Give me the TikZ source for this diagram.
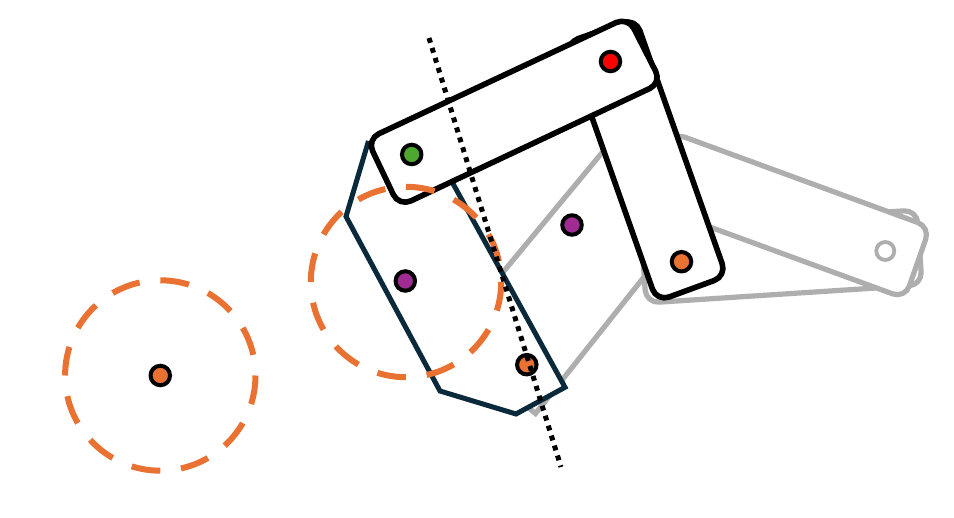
\documentclass[tikz,border=0pt]{standalone}
\usetikzlibrary{calc}
\definecolor{pinred}{HTML}{FF0000}
\definecolor{pingreen}{HTML}{4EA72E}
\definecolor{pinpurple}{HTML}{A02B93}
\definecolor{accent}{HTML}{E97132}
\definecolor{navy}{HTML}{0A2A3C}
\definecolor{ghost}{HTML}{AEAEAE}
\tikzset{
  ghostlink/.style={draw=ghost,fill=white,line width=5.2pt,rounded corners=13pt,line join=round},
  blacklink/.style={draw=black,fill=white,line width=5.6pt,rounded corners=13pt,line join=round},
  navyplate/.style={draw=navy,fill=white,line width=5pt,line join=miter},
  reach/.style={draw=accent,line width=6pt,dash pattern=on 29pt off 20.85pt},
  axisline/.style={draw=black,line width=5pt,dash pattern=on 5pt off 5.4pt},
  joint/.style={circle,draw=black,line width=4pt,minimum size=19.5pt,inner sep=0pt},
  ghostjoint/.style={circle,draw=ghost,fill=white,line width=3.8pt,minimum size=18pt,inner sep=0pt},
}
\begin{document}
\begin{tikzpicture}[x=1pt,y=-1pt]
\useasboundingbox (0,0) rectangle (954,518);
% ghost linkage
\draw[ghostlink,rounded corners=0pt,line join=miter] (446.5,340.4) -- (535.5,413.5) -- (675,238) -- (620,131) -- cycle;
\draw[ghostlink] (641,228) -- (646,303) -- (922,285) -- (917,210) -- cycle;
\draw[ghostlink] (672,132.5) -- (930,227) -- (905,298.4) -- (647,204) -- cycle;
\node[ghostjoint] (gj) at (885.3,251) {};
% plate
\draw[navyplate] (368.5,141) -- (346,216.5) -- (440,391) -- (516,414) -- (565,387.3) -- (440,160);
% black links
\draw[blacklink] (565.8,43) -- (635.5,18.4) -- (726.5,276) -- (656.8,301.5) -- cycle;
\draw[blacklink] (367,139.3) -- (628,17) -- (661.6,82.9) -- (399,206.5) -- cycle;
% reach circles
\coordinate (cA) at (160.3,375.5);
\coordinate (cB) at (406,282);
\draw[reach] ($(cA)+(95.2,0)$) arc [start angle=0,end angle=360,radius=95.2];
\draw[reach] ($(cB)+(95.2,0)$) arc [start angle=0,end angle=360,radius=95.2];
% joints
\node[joint,fill=accent] (jA) at (cA) {};
\node[joint,fill=pinpurple] (jB) at (405.3,281) {};
\node[joint,fill=pingreen] (jC) at (411.7,154.5) {};
\node[joint,fill=pinred] (jD) at (610.5,61.5) {};
\node[joint,fill=accent] (jE) at (681.5,261.7) {};
\node[joint,fill=pinpurple] (jF) at (572,225) {};
\node[joint,fill=accent] (jG) at (526.8,364.7) {};
% axis
\coordinate (axA) at (429,38);
\coordinate (axB) at (561,467);
\draw[axisline] (axA) -- (axB);
\end{tikzpicture}
\end{document}
